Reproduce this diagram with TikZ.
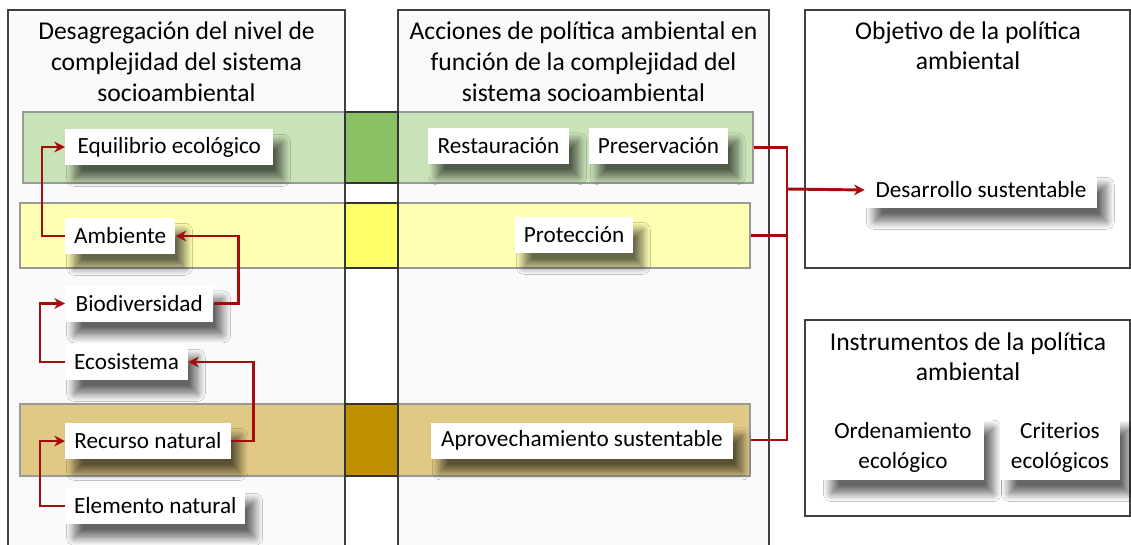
\documentclass[tikz,border=0pt]{standalone}
\usepackage{fontspec}
\setmainfont{Carlito}
\usetikzlibrary{shadows.blur, arrows.meta}

\definecolor{flowred}{RGB}{165,12,12}
\definecolor{colfill}{RGB}{250,250,250}
\definecolor{bandgreen}{RGB}{201,227,184}
\definecolor{sqgreen}{RGB}{138,193,101}
\definecolor{bandyellow}{RGB}{255,255,180}
\definecolor{sqyellow}{RGB}{255,255,102}
\definecolor{bandbrown}{RGB}{224,201,133}
\definecolor{sqbrown}{RGB}{191,144,0}

\tikzset{
    column/.style={draw=black!75, line width=1.1pt, fill=colfill},
    band/.style={draw=black!40, line width=0.8pt, minimum width=547.5pt, inner sep=0pt},
    square/.style={draw=black!80, line width=1pt},
    labelbox/.style={fill=white, inner sep=2pt, minimum height=27pt,
        font=\fontsize{17.4pt}{23pt}\selectfont,
        blur shadow={shadow xshift=7pt, shadow yshift=-10pt, shadow blur radius=6pt,
            shadow blur steps=14, shadow opacity=60}},
    title/.style={align=center, font=\fontsize{19.2pt}{23.25pt}\selectfont},
    flow/.style={draw=flowred, line width=2.2pt, -{Stealth[length=8pt, width=8pt]}},
    flowline/.style={draw=flowred, line width=2.2pt}
}

\begin{document}
\begin{tikzpicture}[x=0.75pt, y=-0.75pt]

    \clip (0, 0) rectangle (1131, 544);

    % columns
    \draw [column] (8, 10) rectangle (345, 560);
    \draw [column] (398, 10) rectangle (769, 560);
    \draw [column, fill=white] (805, 10) rectangle (1130, 268);
    \draw [column, fill=white] (805, 320) rectangle (1130, 516);

    \node [title] (tleft) at (176.5, 62) {Desagregación del nivel de\\complejidad del sistema\\socioambiental};
    \node [title] (tmid) at (583.5, 62) {Acciones de política ambiental en\\función de la complejidad del\\sistema socioambiental};
    \node [title, font=\fontsize{19.2pt}{22.5pt}\selectfont] (tobj) at (968, 45.5) {Objetivo de la política\\ambiental};
    \node [title, font=\fontsize{19.2pt}{22.5pt}\selectfont] (tins) at (968, 357) {Instrumentos de la política\\ambiental};

    % bands
    \node [band, fill=bandgreen, minimum height=53.25pt] (gband) at (388, 147.5) {};
    \node [band, fill=bandyellow, minimum height=48.75pt] (yband) at (385, 235.5) {};
    \node [band, fill=bandbrown, minimum height=54pt] (bband) at (385, 440) {};

    \draw [square, fill=sqgreen] (345, 112) rectangle (398, 183);
    \draw [square, fill=sqyellow] (345, 203) rectangle (398, 268);
    \draw [square, fill=sqbrown] (345, 404) rectangle (398, 476);

    % niveles
    \node [labelbox, anchor=west, minimum width=156pt] (equi) at (65, 147) {Equilibrio ecológico};
    \node [labelbox, anchor=west, minimum width=82.5pt] (amb) at (65, 236) {Ambiente};
    \node [labelbox, anchor=west, minimum width=111pt] (bio) at (65, 303.5) {Biodiversidad};
    \node [labelbox, anchor=west, minimum width=92pt] (eco) at (65, 362) {Ecosistema};
    \node [labelbox, anchor=west, minimum width=124pt] (rec) at (65, 441) {Recurso natural};
    \node [labelbox, anchor=west, minimum width=135pt] (ele) at (65, 506) {Elemento natural};

    % acciones
    \node [labelbox, minimum width=106pt] (rest) at (498.5, 145.5) {Restauración};
    \node [labelbox, minimum width=104pt] (pres) at (658.5, 145.5) {Preservación};
    \node [labelbox, minimum width=88.5pt] (prot) at (574, 235) {Protección};
    \node [labelbox, minimum width=226.5pt] (apro) at (582, 440.5) {Aprovechamiento sustentable};

    % objetivo e instrumentos
    \node [labelbox, minimum width=174pt] (desa) at (981, 190) {Desarrollo sustentable};
    \node [labelbox, align=center, minimum width=121.5pt, minimum height=49pt] (orde) at (903, 447.5) {Ordenamiento\\ecológico};
    \node [labelbox, align=center, minimum width=90pt, minimum height=49pt] (crit) at (1060, 447.5) {Criterios\\ecológicos};

    % jerarquia
    \draw [flow] (amb.west) -- ++(-23, 0) |- (equi.west);
    \draw [flow] (bio.east) -- ++(25, 0) |- (amb.east);
    \draw [flow] (eco.west) -- ++(-25, 0) |- (bio.west);
    \draw [flow] (rec.east) -- ++(23, 0) |- (eco.east);
    \draw [flow] (ele.west) -- ++(-25, 0) |- (rec.west);

    \coordinate (join) at (787, 189);
    \draw [flowline] (gband.east) -| (join);
    \draw [flowline] (yband.east) -| (join);
    \draw [flowline] (bband.east) -| (join);
    \draw [flow] (join) -- (desa.west);

\end{tikzpicture}
\end{document}
